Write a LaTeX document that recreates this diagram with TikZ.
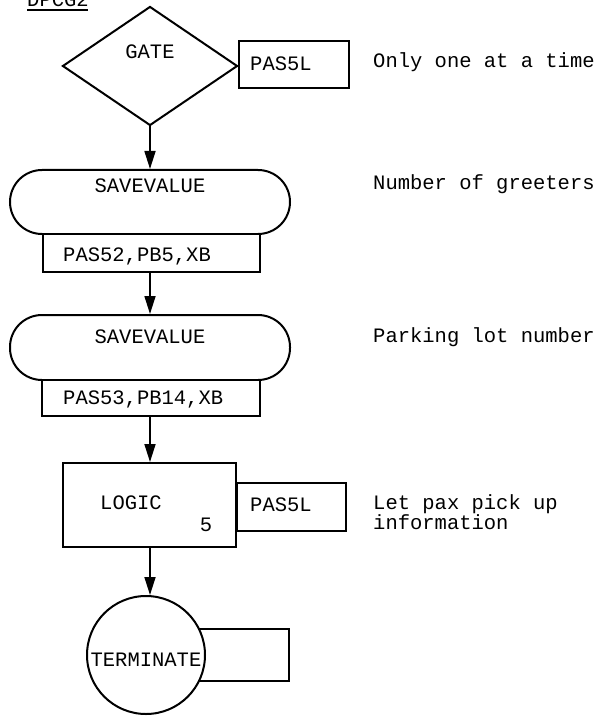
\documentclass[tikz,border=0pt]{standalone}
\usepackage{fontspec}
\setmonofont{Liberation Mono}
\usetikzlibrary{shapes.geometric,arrows.meta}
\begin{document}
\begin{tikzpicture}[x=1pt, y=-1pt,
  blk/.style={draw, line width=2pt, inner sep=0pt, fill=white},
  txt/.style={inner sep=0pt, font=\fontsize{20.5}{20.5}\selectfont\ttfamily},
  flow/.style={line width=1.7pt, -{Triangle[length=18pt, width=11pt]}}]
\useasboundingbox (0,0) rectangle (606,719);
\clip (0,0) rectangle (606,719);
% tieu de (bi cat o tren)
\node[txt, anchor=base west] (title) at (27,7) {DPCG2};
\draw[line width=1.8pt] (title.south west) ++(0,3) -- ++(61,0);
% GATE
\node[blk, diamond, aspect=1.47, minimum width=175pt, minimum height=119pt] (gate) at (150,66) {};
\node[txt] (gatetxt) at (150,52) {GATE};
\node[blk, minimum width=110pt, minimum height=47pt, anchor=west] (gatebox) at (238,64.5) {};
\node[txt, anchor=west] (gatearg) at (250,64) {PAS5L};
\node[txt, anchor=west] (note1) at (373,62) {Only one at a time};
% SAVEVALUE 1
\node[blk, minimum width=280pt, minimum height=64pt, rounded corners=32pt] (sv1) at (150,202) {};
\node[txt] (sv1txt) at (150,186) {SAVEVALUE};
\node[blk, minimum width=217pt, minimum height=38pt] (sv1box) at (151.5,253) {};
\node[txt, anchor=west] (sv1arg) at (63,256) {PAS52,PB5,XB};
\node[txt, anchor=west] (note2) at (373,184) {Number of greeters};
% SAVEVALUE 2
\node[blk, minimum width=280pt, minimum height=65pt, rounded corners=32pt] (sv2) at (150,347.5) {};
\node[txt] (sv2txt) at (150,337) {SAVEVALUE};
\node[blk, minimum width=218pt, minimum height=36pt] (sv2box) at (151,398) {};
\node[txt, anchor=west] (sv2arg) at (63,399) {PAS53,PB14,XB};
\node[txt, anchor=west] (note3) at (373,337) {Parking lot number};
% LOGIC
\node[blk, minimum width=173pt, minimum height=84pt] (logic) at (149.5,505) {};
\node[txt, anchor=west] (logictxt) at (100,503) {LOGIC};
\node[txt] (logicnum) at (206,525) {5};
\node[blk, minimum width=109pt, minimum height=48pt, anchor=west] (logicbox) at (236,507) {};
\node[txt, anchor=west] (logicarg) at (250,505) {PAS5L};
\node[txt, anchor=north west, align=left] (note4) at (373,494) {Let pax pick up\\information};
% TERMINATE
\node[blk, minimum width=98pt, minimum height=52pt, anchor=west] (termbox) at (190,655) {};
\node[blk, circle, minimum size=118pt] (term) at (146,655) {};
\node[txt] (termtxt) at (146,660) {TERMINATE};
% mui ten
\draw[flow] (gate.south) -- (sv1.north);
\draw[flow] (sv1box.south -| sv1.north) -- (sv2.north);
\draw[flow] (sv2box.south -| sv2.north) -- (logic.north -| sv2.north);
\draw[flow] (logic.south -| sv2.north) -- (term.north -| sv2.north);
\end{tikzpicture}
\end{document}
